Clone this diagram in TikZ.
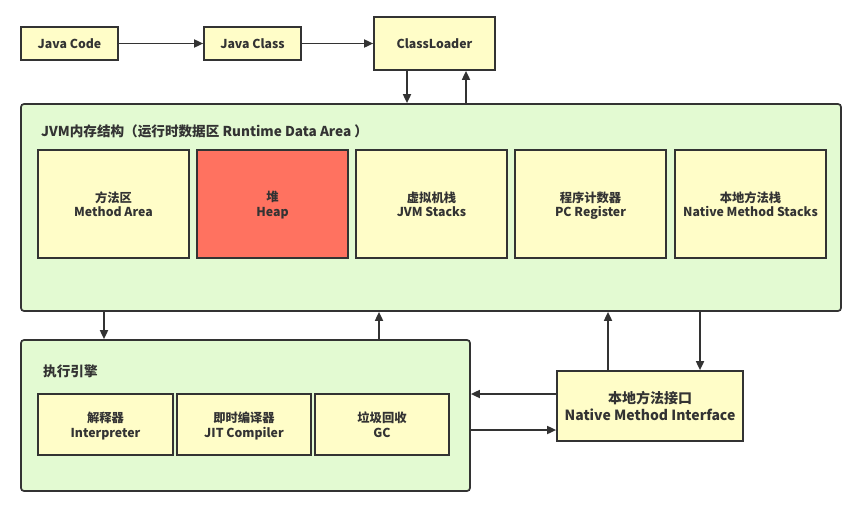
\documentclass[tikz,border=0pt]{standalone}
\usepackage{fontspec}
\setmainfont{Noto Sans CJK SC}
\usetikzlibrary{arrows.meta,calc}
\definecolor{ybox}{HTML}{FFFDC8}
\definecolor{gbox}{HTML}{E3FAD2}
\definecolor{hbox}{HTML}{FF7260}
\definecolor{edge}{HTML}{333333}
\tikzset{
  box/.style={draw=edge, line width=1.7pt, fill=ybox, align=center, font=\fontsize{12.3}{14.5}\selectfont\bfseries, text=edge, inner sep=0pt, text depth=-2pt},
  area/.style={draw=edge, line width=1.7pt, fill=gbox, rounded corners=3pt, inner sep=0pt},
  titletext/.style={font=\fontsize{13.6}{15}\selectfont\bfseries, text=edge, anchor=west, inner sep=0pt},
  conn/.style={draw=edge, line width=1.7pt, -{Triangle[length=9pt,width=8pt]}}
}
\begin{document}
\begin{tikzpicture}[x=1pt,y=-1pt]
\path[use as bounding box, fill=white] (0,0) rectangle (861,506);
% top row
\node[box, minimum width=97pt, minimum height=33pt] (jc) at (69.5,43.5) {Java Code};
\node[box, minimum width=97pt, minimum height=33pt] (jcl) at (252.5,43.5) {Java Class};
\node[box, minimum width=121pt, minimum height=53pt] (cl) at (434.5,43.5) {ClassLoader};
% JVM area
\node[area, minimum width=820pt, minimum height=207pt] (jvm) at (431,207.5) {};
\node[titletext] (jvmt) at (41,131) {JVM内存结构（运行时数据区 Runtime Data Area ）};
\node[box, minimum width=151pt, minimum height=108pt] (ma) at (113.5,204) {方法区\\Method Area};
\node[box, fill=hbox, minimum width=151pt, minimum height=108pt] (hp) at (272.5,204) {堆\\Heap};
\node[box, minimum width=151pt, minimum height=108pt] (vs) at (431.5,204) {虚拟机栈\\JVM Stacks};
\node[box, minimum width=151pt, minimum height=108pt] (pc) at (590.5,204) {程序计数器\\PC Register};
\node[box, minimum width=151pt, minimum height=108pt] (ns) at (750.5,204) {本地方法栈\\Native Method Stacks};
% execution engine
\node[area, minimum width=449pt, minimum height=151pt] (ex) at (245.5,415.5) {};
\node[titletext] (ext) at (43,371) {执行引擎};
\node[box, minimum width=135pt, minimum height=61pt] (ip) at (105.5,424.5) {解释器\\Interpreter};
\node[box, minimum width=134pt, minimum height=61pt] (jit) at (244,424.5) {即时编译器\\JIT Compiler};
\node[box, minimum width=134pt, minimum height=61pt] (gc) at (382,424.5) {垃圾回收\\GC};
% native method interface
\node[box, minimum width=186pt, minimum height=70pt, font=\fontsize{14}{16.5}\selectfont\bfseries] (nmi) at (650,406) {本地方法接口\\Native Method Interface};
% helper coordinates
\coordinate (a1) at (407,0);
\coordinate (a2) at (466,0);
\coordinate (a3) at (104,0);
\coordinate (a4) at (379,0);
\coordinate (a5) at (608,0);
\coordinate (a6) at (700,0);
\coordinate (b1) at (0,394);
\coordinate (b2) at (0,430);
% connectors
\draw[conn] (jc.east) -- (jcl.west);
\draw[conn] (jcl.east) -- (jcl.east -| cl.west);
\draw[conn] (cl.south -| a1) -- (jvm.north -| a1);
\draw[conn] (jvm.north -| a2) -- (cl.south -| a2);
\draw[conn] (jvm.south -| a3) -- (ex.north -| a3);
\draw[conn] (ex.north -| a4) -- (jvm.south -| a4);
\draw[conn] (nmi.north -| a5) -- (jvm.south -| a5);
\draw[conn] (jvm.south -| a6) -- (nmi.north -| a6);
\draw[conn] (nmi.west |- b1) -- (ex.east |- b1);
\draw[conn] (ex.east |- b2) -- (nmi.west |- b2);
\end{tikzpicture}
\end{document}
